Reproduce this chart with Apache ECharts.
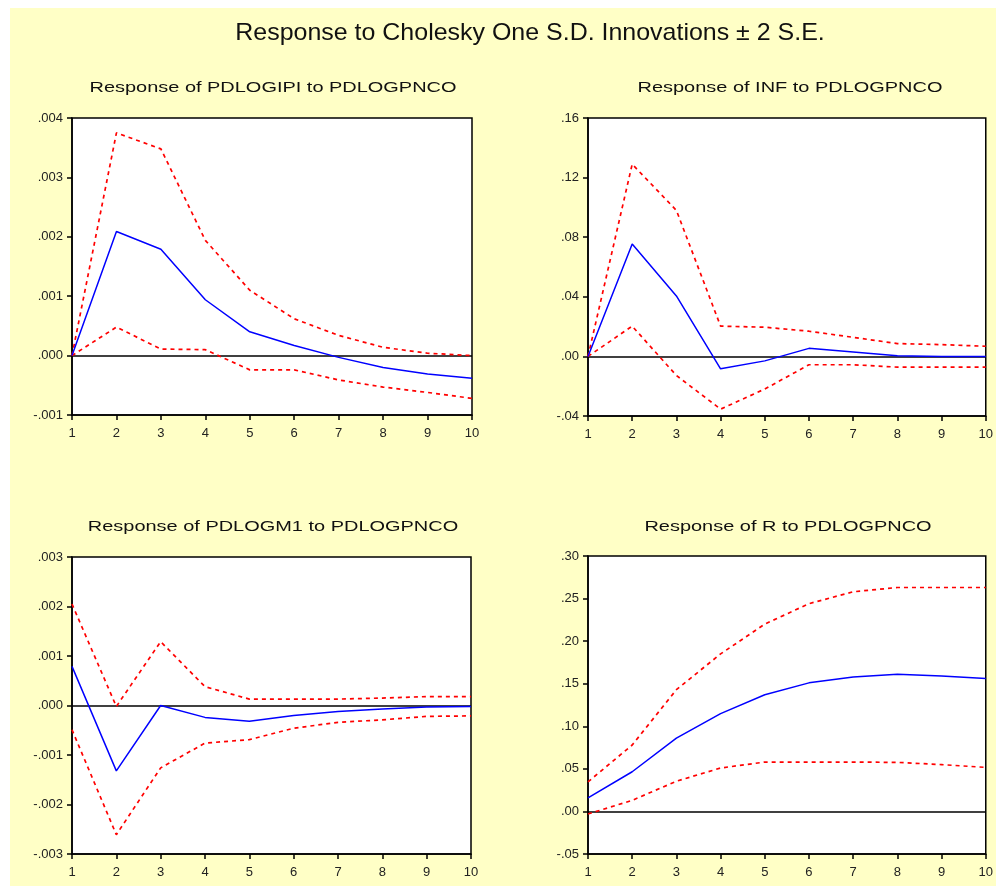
<!DOCTYPE html>
<html><head><meta charset="utf-8">
<script src="https://cdn.jsdelivr.net/npm/echarts@6/dist/echarts.min.js"></script>
<style>html,body{margin:0;padding:0;background:#fff}#c{width:996px;height:886px}</style>
</head><body><div id="c"></div>
<script>
const periods = [1,2,3,4,5,6,7,8,9,10];

const ipiResp  = [0, 0.00209, 0.00179, 0.00094, 0.00040, 0.00017, -0.00003, -0.00020, -0.00031, -0.00038];
const ipiUpper = [0, 0.00375, 0.00348, 0.00194, 0.00110, 0.00062, 0.00034, 0.00014, 0.00004, 0.00000];
const ipiLower = [0, 0.00048, 0.00011, 0.00010, -0.00024, -0.00024, -0.00041, -0.00053, -0.00062, -0.00072];

const infResp  = [0, 0.0755, 0.0406, -0.0083, -0.0030, 0.0054, 0.0030, 0.0005, 0.0000, 0.0000];
const infUpper = [0, 0.1290, 0.0980, 0.0203, 0.0196, 0.0169, 0.0128, 0.0086, 0.0079, 0.0068];
const infLower = [0, 0.0203, -0.0128, -0.0354, -0.0219, -0.0056, -0.0056, -0.0072, -0.0072, -0.0072];

const m1Resp  = [0.00079, -0.00132, 0.00000, -0.00024, -0.00032, -0.00020, -0.00012, -0.00007, -0.00003, -0.00002];
const m1Upper = [0.00205, -0.00002, 0.00129, 0.00038, 0.00013, 0.00013, 0.00013, 0.00015, 0.00018, 0.00018];
const m1Lower = [-0.00049, -0.00261, -0.00126, -0.00076, -0.00069, -0.00046, -0.00034, -0.00029, -0.00022, -0.00021];

const rResp  = [0.0158, 0.0466, 0.0860, 0.1148, 0.1370, 0.1510, 0.1580, 0.1610, 0.1590, 0.1560];
const rUpper = [0.0347, 0.0780, 0.1430, 0.1850, 0.2200, 0.2440, 0.2580, 0.2630, 0.2630, 0.2630];
const rLower = [-0.0030, 0.0130, 0.0355, 0.0510, 0.0580, 0.0580, 0.0580, 0.0576, 0.0550, 0.0517];

const mainTitle = 'Response to Cholesky One S.D. Innovations \u00B1 2 S.E.';
const panelTitles = ['Response of PDLOGIPI to PDLOGPNCO','Response of INF to PDLOGPNCO','Response of PDLOGM1 to PDLOGPNCO','Response of R to PDLOGPNCO'];
const yMin = [-0.001, -0.04, -0.003, -0.05];
const yMax = [0.004, 0.16, 0.003, 0.30];
const yStep = [0.001, 0.04, 0.001, 0.05];
const yDec = [3, 2, 3, 2];

const panels = [
  [ipiResp, ipiUpper, ipiLower],
  [infResp, infUpper, infLower],
  [m1Resp, m1Upper, m1Lower],
  [rResp, rUpper, rLower]
];

const grids = [
  {left:72, top:118, width:400, height:297},
  {left:588, top:118, width:398, height:298},
  {left:72, top:557, width:399, height:297},
  {left:588, top:556, width:398, height:298}
];
const titlePos = [[273,88],[790,88],[273,527],[788,527]];

const FONT = 'Liberation Sans, Arial, sans-serif';
const pairs = (arr) => periods.map((p,i)=>[p, arr[i]]);

function label(text, x, y, size, sx) {
  return {type:'text', x:x, y:y, scaleX:sx, z:20,
    style:{text:text, x:0, y:0, align:'center', verticalAlign:'middle',
      font:'normal ' + size + 'px ' + FONT, fill:'#111'}};
}

const option = {
  backgroundColor: '#ffffff',
  animation: false,
  graphic: [{type:'rect', z:-10, shape:{x:10,y:8,width:986,height:878}, style:{fill:'#FFFFC6'}},
            label(mainTitle, 530, 33, 24, 1.04)]
    .concat(panelTitles.map((t,i)=>label(t, titlePos[i][0], titlePos[i][1], 15, 1.33))),
  grid: grids.map(g=>Object.assign({show:true, backgroundColor:'#ffffff', borderColor:'#000', borderWidth:1.5}, g)),
  xAxis: grids.map((g,i)=>({
    type:'value', gridIndex:i, min:1, max:10, interval:1,
    axisLine:{show:true, onZero:false, lineStyle:{color:'#000', width:1.5}},
    axisTick:{show:true, inside:false, length:5, lineStyle:{color:'#000', width:1.5}},
    axisLabel:{fontFamily:FONT, fontSize:13, color:'#222', margin:12},
    splitLine:{show:false}
  })),
  yAxis: grids.map((g,i)=>({
    type:'value', gridIndex:i, min:yMin[i], max:yMax[i], interval:yStep[i],
    axisLine:{show:true, onZero:false, lineStyle:{color:'#000', width:1.5}},
    axisTick:{show:true, inside:false, length:5, lineStyle:{color:'#000', width:1.5}},
    axisLabel:{fontFamily:FONT, fontSize:13, color:'#222', margin:9,
      formatter:(v)=>{ const s = (Math.round(v/yStep[i])*yStep[i]).toFixed(yDec[i]); return s.replace(/^(-?)0\./,'$1.'); }},
    splitLine:{show:false}
  })),
  series: []
};

panels.forEach((p,i)=>{
  option.series.push({type:'line', xAxisIndex:i, yAxisIndex:i, data:pairs(p[1]), symbol:'none',
    lineStyle:{color:'#ff0000', width:1.7, type:[4,4]}, z:3});
  option.series.push({type:'line', xAxisIndex:i, yAxisIndex:i, data:pairs(p[2]), symbol:'none',
    lineStyle:{color:'#ff0000', width:1.7, type:[4,4]}, z:3});
  option.series.push({type:'line', xAxisIndex:i, yAxisIndex:i, data:pairs(p[0]), symbol:'none',
    lineStyle:{color:'#0000ff', width:1.5}, z:4,
    markLine:{silent:true, symbol:'none', label:{show:false}, lineStyle:{color:'#000', width:1.5, type:'solid'}, data:[{yAxis:0}], z:2}});
});

const chart = echarts.init(document.getElementById('c'), null, {renderer:'canvas'});
chart.setOption(option);
</script></body></html>
